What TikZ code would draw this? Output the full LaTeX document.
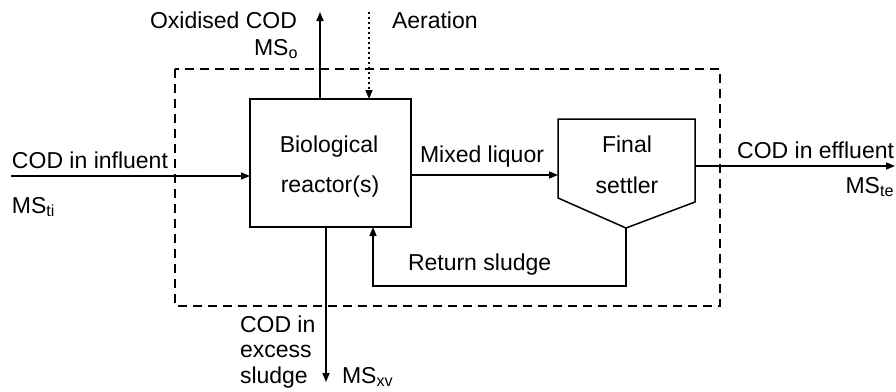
\documentclass[tikz,border=0pt]{standalone}
\usepackage{fontspec}
\setmainfont{Liberation Sans}
\usetikzlibrary{arrows.meta}
\begin{document}
\begin{tikzpicture}[x=1pt,y=-1pt,
  every node/.style={inner sep=0pt,outer sep=0pt,font=\fontsize{23}{25}\selectfont},
  line/.style={line width=1.5pt},
  arr/.style={line width=1.5pt,-{Triangle[length=9pt,width=7pt]}},
  boundary/.style={line width=1.5pt,dash pattern=on 9pt off 6pt},
  air/.style={line width=1.5pt,dash pattern=on 2pt off 3pt,-{Triangle[length=9pt,width=7pt]}}]
\useasboundingbox (0,0) rectangle (896,391);
% system boundary
\draw[boundary] (175,69) rectangle (720,306);
% reactor
\draw[line] (250,99) rectangle (411,227);
\node (reactor) at (330.5,163) {};
\node[anchor=base] (bio) at (329,152) {Biological};
\node[anchor=base] (rea) at (330,192) {reactor(s)};
% settler
\coordinate (stl) at (558,119);
\coordinate (str) at (695,119);
\coordinate (srb) at (695,202);
\coordinate (sbot) at (626,228);
\coordinate (slb) at (558,198);
\draw[line] (stl) -- (str) -- (srb) -- (sbot) -- (slb) -- cycle;
\node[anchor=base] (final) at (627,152) {Final};
\node[anchor=base] (settler) at (627,193) {settler};
% influent
\coordinate (inA) at (11,176);
\coordinate (inB) at (250,176);
\draw[arr] (inA) -- (inB);
\node[anchor=base west] (codin) at (12,168) {COD in influent};
\node[anchor=base west] (msti) at (12,213) {MS\textsubscript{ti}};
% oxidised
\coordinate (oxA) at (320,99);
\coordinate (oxB) at (320,12);
\draw[arr] (oxA) -- (oxB);
\node[anchor=base east] (oxcod) at (297,28) {Oxidised COD};
\node[anchor=base east] (mso) at (298,55) {MS\textsubscript{o}};
% aeration
\coordinate (aeA) at (369,12);
\coordinate (aeB) at (369,99);
\draw[air] (aeA) -- (aeB);
\node[anchor=base west] (aer) at (392,28) {Aeration};
% mixed liquor
\coordinate (mlA) at (411,175);
\coordinate (mlB) at (558,175);
\draw[arr] (mlA) -- (mlB);
\node[anchor=base west] (mixed) at (420,162) {Mixed liquor};
% effluent
\coordinate (efA) at (695,166);
\coordinate (efB) at (895,166);
\draw[arr] (efA) -- (efB);
\node[anchor=base east] (codeff) at (894,158) {COD in effluent};
\node[anchor=base east] (mste) at (894,193) {MS\textsubscript{te}};
% return sludge
\coordinate (retA) at (373,227);
\draw[arr] (sbot) -- (626,286) -- (373,286) -- (retA);
\node[anchor=base west] (ret) at (408,270) {Return sludge};
% excess sludge
\coordinate (exA) at (326,227);
\coordinate (exB) at (326,382);
\draw[arr] (exA) -- (exB);
\node[anchor=base west] (ex1) at (240,332) {COD in};
\node[anchor=base west] (ex2) at (240,357) {excess};
\node[anchor=base west] (ex3) at (240,383) {sludge};
\node[anchor=base west] (msxv) at (342,383) {MS\textsubscript{xv}};
\end{tikzpicture}
\end{document}
